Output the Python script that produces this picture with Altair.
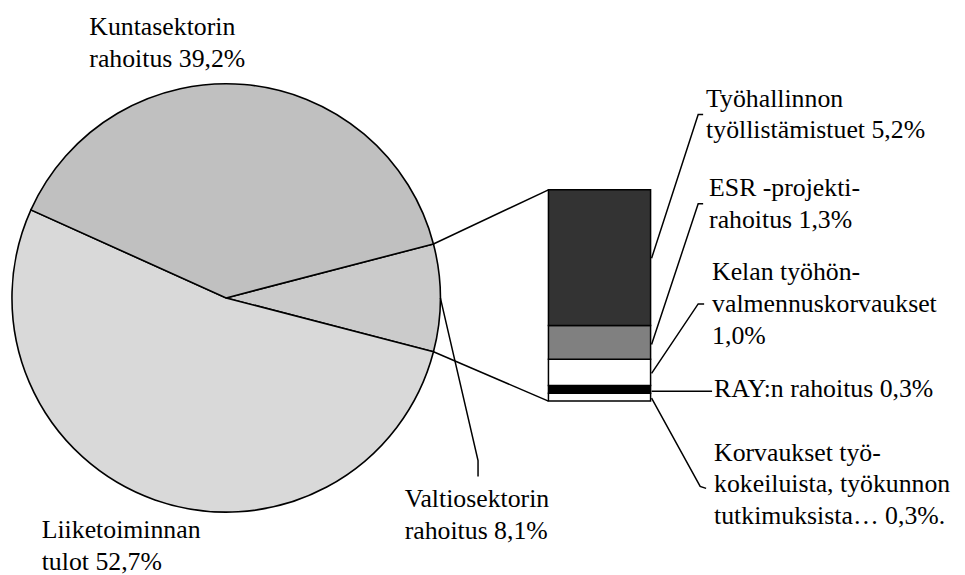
import altair as alt
import pandas as pd
import numpy as np

# ---- data ----
pie_names = ["Valtiosektorin rahoitus", "Liiketoiminnan tulot", "Kuntasektorin rahoitus"]
pie_values = [8.1, 52.7, 39.2]
pie_colors = ["#cbcbcb", "#d9d9d9", "#c0c0c0"]
pie_labels = ["Valtiosektorin\nrahoitus 8,1%", "Liiketoiminnan\ntulot 52,7%", "Kuntasektorin\nrahoitus 39,2%"]

bar_names = ["Korvaukset", "RAY", "Kela", "ESR", "Työhallinto"]
bar_values = [0.3, 0.3, 1.0, 1.3, 5.2]
bar_colors = ["#ffffff", "#000000", "#ffffff", "#808080", "#333333"]
bar_labels = [
    "Korvaukset työ-\nkokeiluista, työkunnon\ntutkimuksista… 0,3%.",
    "RAY:n rahoitus 0,3%",
    "Kelan työhön-\nvalmennuskorvaukset\n1,0%",
    "ESR -projekti-\nrahoitus 1,3%",
    "Työhallinnon\ntyöllistämistuet 5,2%",
]

# ---- layout (page pixel coordinates) ----
W, H = 957, 567
CX, CY, R = 228, 298, 216
START_DEG = 75.4
BAR_X0, BAR_X1, BAR_TOP, BAR_BOT = 553, 656, 189, 402
FONT = "Liberation Serif"

pie_label_pos = [(408, 509), (42, 540), (90, 33)]
bar_label_pos = [(720, 462), (720, 398), (718, 280), (715, 195), (712, 105)]

xs = alt.Scale(domain=[8, 965], nice=False, zero=False)
ys = alt.Scale(domain=[575, 8], nice=False, zero=False)

# pie
pie_df = pd.DataFrame({"name": pie_names, "value": pie_values, "color": pie_colors,
                       "ord": list(range(len(pie_names)))})
start = np.deg2rad(START_DEG)
pie = alt.Chart(pie_df).mark_arc(radius=R, stroke="black", strokeWidth=1.6).encode(
    theta=alt.Theta("value:Q", stack=True, scale=alt.Scale(domain=[0, 100], range=[start, start + 2 * np.pi])),
    order=alt.Order("ord:Q"),
    fill=alt.Fill("color:N", scale=None),
    x=alt.value(CX - 8),
    y=alt.value(CY - 8),
)

# bar
bar_df = pd.DataFrame({"name": bar_names, "value": bar_values, "color": bar_colors,
                       "ord": list(range(len(bar_names)))})
bar_total = sum(bar_values)
bar = alt.Chart(bar_df).transform_stack(
    stack="value", groupby=[], as_=["v0", "v1"], sort=[alt.SortField("ord", order="ascending")]
).mark_rect(stroke="black", strokeWidth=1.5).encode(
    x=alt.value(BAR_X0 - 8),
    x2=alt.value(BAR_X1 - 8),
    y=alt.Y("v0:Q", axis=None,
            scale=alt.Scale(domain=[0, bar_total], range=[BAR_BOT - 8, BAR_TOP - 8], nice=False, zero=False)),
    y2="v1:Q",
    fill=alt.Fill("color:N", scale=None),
)

# connector and leader lines
def pie_pt(deg):
    a = np.deg2rad(deg)
    return (CX + R * np.sin(a), CY - R * np.cos(a))

valtio_end = START_DEG + pie_values[0] * 3.6
p_up = pie_pt(START_DEG)
p_lo = pie_pt(valtio_end)
p_mid = pie_pt((START_DEG + valtio_end) / 2)

lines = [
    [p_up, (BAR_X0, BAR_TOP)],
    [p_lo, (BAR_X0, BAR_BOT)],
    [p_mid, (482, 462), (482, 478)],
    [(657, 258), (704, 113), (709, 113)],
    [(657, 345), (704, 203), (709, 203)],
    [(657, 374), (704, 304), (710, 304)],
    [(657, 392), (718, 392)],
    [(657, 399), (706, 488), (712, 490)],
]
rows = []
for i, pts in enumerate(lines):
    for k, (px, py) in enumerate(pts):
        rows.append({"id": i, "k": k, "X": float(px), "Y": float(py)})
line_df = pd.DataFrame(rows)
leaders = alt.Chart(line_df).mark_line(color="black", strokeWidth=1.5).encode(
    x=alt.X("X:Q", scale=xs, axis=None),
    y=alt.Y("Y:Q", scale=ys, axis=None),
    detail="id:N",
    order="k:Q",
)

# labels
lab_rows = []
for lab, (px, py) in zip(pie_labels, pie_label_pos):
    lab_rows.append({"label": lab, "X": px, "Y": py})
for lab, (px, py) in zip(bar_labels, bar_label_pos):
    lab_rows.append({"label": lab, "X": px, "Y": py})
lab_df = pd.DataFrame(lab_rows)
labels = alt.Chart(lab_df).mark_text(
    align="left", baseline="alphabetic", font=FONT, fontSize=26, lineHeight=32,
    lineBreak="\n", color="black",
).encode(
    x=alt.X("X:Q", scale=xs, axis=None),
    y=alt.Y("Y:Q", scale=ys, axis=None),
    text="label:N",
)

chart = alt.layer(pie, bar, leaders, labels).resolve_scale(y="independent").properties(
    width=W, height=H, autosize=alt.AutoSizeParams(type="none"), padding=0,
    background="white",
).configure_view(stroke=None)

chart.save("out.html", embed_options={"renderer": "svg", "actions": False})
